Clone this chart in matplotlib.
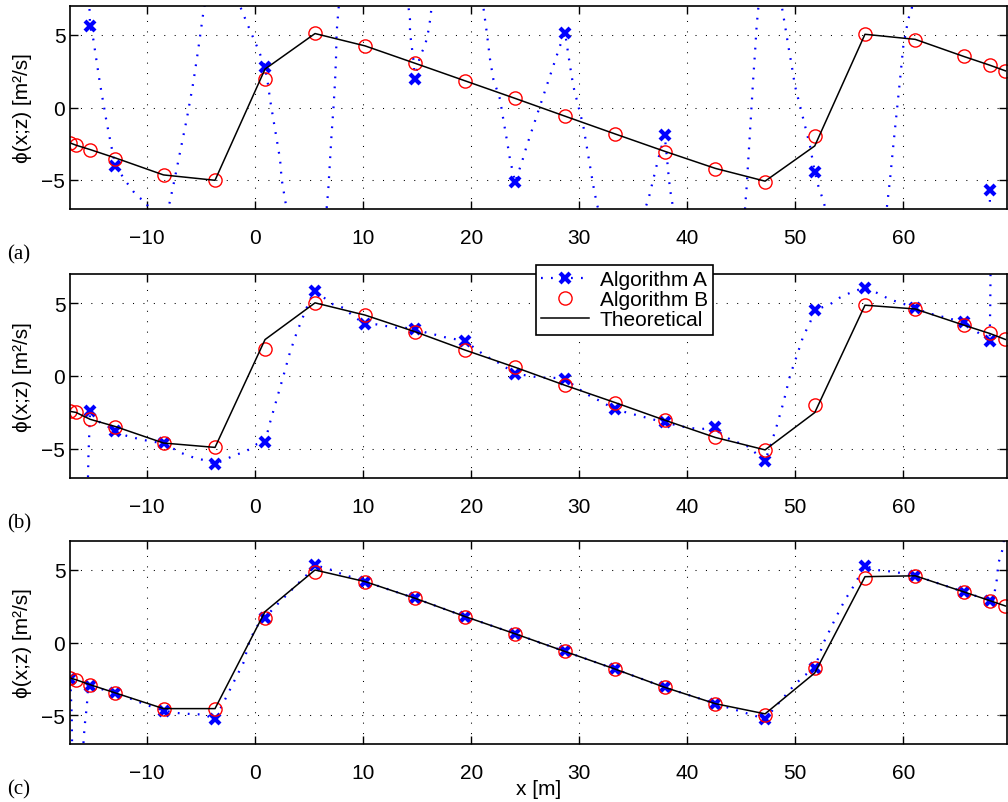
import numpy as np
import matplotlib
matplotlib.use('Agg')
import matplotlib.pyplot as plt
from matplotlib.lines import Line2D

plt.rcParams['font.family'] = ['Liberation Sans', 'DejaVu Sans']
plt.rcParams['font.size'] = 15

# sample positions x [m]
x = [-17.13, -16.6, -15.3, -12.95, -8.5, -3.73, 0.9, 5.53, 10.16, 14.79, 19.42, 24.05,
     28.68, 33.3, 37.9, 42.6, 47.2, 51.8, 56.45, 61.1, 65.6, 68.0, 69.45]

# --- panel (a)
theo_a = [-2.45, -2.6, -2.9, -3.48, -4.65, -5.02, 2.65, 5.1, 4.25, 3.05, 1.84, 0.63,
          -0.6, -1.82, -3.02, -4.2, -5.08, -2.65, 5.05, 4.7, 3.52, 2.92, 2.53]
algB_a = [-2.45, -2.6, -2.93, -3.52, -4.65, -5.02, 1.95, 5.11, 4.25, 3.06, 1.84, 0.64,
          -0.62, -1.82, -3.04, -4.21, -5.14, -1.96, 5.06, 4.67, 3.52, 2.92, 2.53]
algA_a = [9, 12, 5.6, -4.03, -10, 10, 2.76, -12, 14, 1.95, 14, -5.15,
          5.15, -12, -1.91, -15, 12, -4.45, -14, 9, -12, -5.69, -10]
# dotted reconstruction of algorithm A
curveA_a = [(-15.45, 9.0), (-15.3, 5.6), (-15.0, 4.7), (-14.4, 1.73), (-13.76, -1.04),
            (-13.15, -3.34), (-12.95, -4.03), (-11.9, -5.18), (-10.98, -6.1), (-10.06, -6.56),
            (-9.9, -7.0), (-8.5, -10.0), (-8.06, -7.0), (-7.6, -5.41), (-6.97, -3.11),
            (-6.35, -0.81), (-5.74, 1.73), (-5.28, 4.03), (-4.81, 6.56), (-4.7, 7.0),
            (-3.73, 10.0), (-1.42, 7.0), (-0.8, 5.87), (-0.33, 5.06), (0.13, 4.25),
            (0.44, 3.68), (0.9, 2.76), (1.2, 1.49), (1.36, 0.57), (1.67, -0.81), (1.98, -2.19),
            (2.29, -3.57), (2.44, -4.95), (2.75, -6.33), (2.9, -7.0), (5.53, -12.0),
            (6.6, -7.0), (6.76, -5.64), (6.92, -3.57), (7.07, -1.73), (7.23, -0.12),
            (7.38, 1.73), (7.47, 3.34), (7.53, 5.18), (7.69, 6.67), (7.8, 7.5), (10.16, 14.0),
            (14.17, 7.0), (14.32, 6.1), (14.32, 5.18), (14.48, 4.25), (14.63, 3.34),
            (14.79, 1.95), (15.25, 3.56), (15.71, 4.25), (16.0, 5.18), (16.2, 6.1),
            (16.33, 7.0), (19.42, 14.0), (21.1, 7.0), (21.43, 5.18), (21.73, 3.34),
            (22.04, 1.95), (22.66, 0.57), (22.96, -0.81), (23.28, -2.19), (23.58, -3.57),
            (24.05, -5.15), (24.67, -3.8), (25.13, -2.65), (25.74, -1.27), (26.36, 0.11),
            (26.98, 1.49), (27.59, 2.87), (28.21, 4.25), (28.68, 5.15), (29.14, 2.87),
            (29.44, 1.49), (29.9, 0.11), (30.37, -1.27), (30.68, -2.65), (30.99, -4.03),
            (31.3, -5.41), (31.6, -6.56), (31.75, -7.0), (33.3, -12.0), (36.08, -7.0),
            (36.4, -6.33), (36.7, -5.41), (37.0, -4.49), (37.3, -3.57), (37.9, -1.91),
            (38.1, -3.34), (38.24, -4.49), (38.4, -5.64), (38.55, -6.33), (38.7, -7.0),
            (42.6, -15.0), (45.34, -7.0), (45.5, -5.41), (45.65, -3.57), (45.8, -1.73),
            (45.96, 0.11), (46.1, 1.95), (46.27, 3.8), (46.42, 5.64), (46.57, 6.8),
            (47.2, 12.0), (48.74, 7.0), (49.05, 5.64), (49.35, 4.25), (49.67, 2.87),
            (49.97, 1.49), (50.44, 0.11), (50.9, -1.27), (51.36, -2.65), (51.8, -4.45),
            (52.13, -5.41), (52.6, -6.45), (52.8, -7.0), (56.45, -14.0), (58.46, -7.0),
            (58.77, -4.95), (59.07, -2.65), (59.39, -0.35), (59.7, 1.95), (60.0, 4.25),
            (60.46, 6.1), (60.78, 6.79), (61.1, 9.0), (np.nan, np.nan),
            (68.0, -5.69), (68.05, -8.0)]

# --- panel (b)
theo_b = [-2.43, -2.5, -2.97, -3.47, -4.6, -4.9, 2.5, 5.02, 4.18, 3.04, 1.78, 0.6,
          -0.64, -1.82, -3.03, -4.22, -5.07, -2.51, 4.86, 4.6, 3.49, 2.92, 2.51]
algB_b = [-2.43, -2.5, -2.97, -3.47, -4.6, -4.9, 1.88, 5.02, 4.18, 3.04, 1.78, 0.6,
          -0.64, -1.82, -3.03, -4.22, -5.07, -1.98, 4.86, 4.61, 3.49, 2.92, 2.51]
algA_b = [-12, -20, -2.4, -3.77, -4.6, -6.05, -4.52, 5.82, 3.54, 3.2, 2.4, 0.16,
          -0.18, -2.28, -3.19, -3.53, -5.82, 4.52, 6.05, 4.68, 3.7, 2.4, 20]
curveA_b = [(-15.55, -9.0), (-15.45, -5.5), (-15.3, -2.4), (-14.37, -3.19), (-13.76, -3.42),
            (-12.95, -3.77), (-11.9, -4.11), (-10.68, -4.34), (-9.44, -4.52), (-8.5, -4.6),
            (-6.97, -5.25), (-5.74, -5.59), (-4.5, -5.82), (-3.73, -6.05), (-2.04, -5.48),
            (-0.8, -5.14), (0.13, -4.68), (0.9, -4.52), (1.36, -3.2), (1.98, -1.6), (2.6, 0.0),
            (3.2, 1.6), (3.83, 2.97), (4.44, 4.1), (5.06, 5.25), (5.53, 5.82), (7.22, 4.91),
            (8.15, 4.68), (8.93, 4.2), (10.16, 3.54), (11.24, 3.54), (12.17, 3.42),
            (13.1, 3.31), (13.86, 3.31), (14.79, 3.2), (15.87, 2.97), (16.8, 2.81),
            (17.72, 2.63), (18.65, 2.51), (19.42, 2.4), (21.1, 1.49), (21.9, 1.14),
            (22.66, 0.85), (24.05, 0.16), (25.44, 0.0), (26.36, -0.11), (27.3, -0.11),
            (28.68, -0.18), (29.76, -0.8), (30.99, -1.37), (31.9, -1.71), (33.3, -2.28),
            (34.4, -2.51), (35.6, -2.74), (37.9, -3.19), (39.94, -3.53), (41.17, -3.65),
            (42.6, -3.53), (43.33, -4.11), (44.26, -4.45), (45.5, -4.79), (47.2, -5.82),
            (47.8, -4.56), (48.28, -3.42), (48.9, -1.82), (49.5, 0.0), (50.13, 1.37),
            (50.74, 2.74), (51.36, 3.66), (51.8, 4.52), (53.2, 4.91), (54.1, 5.37),
            (55.4, 5.82), (56.45, 6.05), (57.54, 5.71), (58.77, 5.25), (59.7, 5.03),
            (61.1, 4.68), (62.17, 4.34), (63.4, 4.11), (64.3, 3.93), (65.6, 3.7),
            (66.5, 3.2), (68.0, 2.4), (68.05, 5.0), (68.1, 9.0)]

# --- panel (c)
theo_c = [-2.45, -2.57, -2.91, -3.48, -4.56, -4.56, 2.13, 5.0, 4.2, 3.05, 1.79, 0.6,
          -0.62, -1.83, -3.09, -4.22, -4.92, -2.1, 4.54, 4.6, 3.49, 2.89, 2.52]
algB_c = [-2.45, -2.57, -2.91, -3.48, -4.56, -4.56, 1.72, 4.89, 4.2, 3.05, 1.79, 0.6,
          -0.62, -1.83, -3.09, -4.22, -4.97, -1.76, 4.47, 4.61, 3.49, 2.89, 2.52]
algA_c = [-2.55, -20, -2.98, -3.5, -4.7, -5.27, 1.72, 5.34, 4.2, 3.05, 1.79, 0.6,
          -0.62, -1.83, -3.09, -4.22, -5.27, -1.76, 5.3, 4.61, 3.49, 2.89, 20]
curveA_c = [(-17.13, -2.55), (-17.0, -5.0), (-16.95, -8.0), (-16.6, -20.0), (-15.95, -8.0),
            (-15.9, -6.7), (-15.77, -5.54), (-15.6, -4.4), (-15.52, -3.48), (-15.3, -2.98),
            (-12.95, -3.5), (-11.3, -3.94), (-10.06, -4.31), (-8.5, -4.7), (-7.28, -4.86),
            (-6.05, -4.93), (-4.81, -4.97), (-3.73, -5.27), (-2.96, -4.17), (-2.04, -2.79),
            (-1.11, -1.42), (-0.49, 0.19), (0.13, 1.1), (0.9, 1.72), (1.98, 2.59),
            (2.9, 3.28), (3.83, 3.97), (4.76, 4.66), (5.53, 5.34), (7.07, 5.0), (7.84, 4.77),
            (8.77, 4.54), (10.16, 4.2), (14.79, 3.05), (19.42, 1.79), (24.05, 0.6),
            (28.68, -0.62), (33.3, -1.83), (37.9, -3.09), (42.6, -4.22), (47.2, -5.27),
            (49.8, -3.03), (50.74, -2.34), (51.8, -1.76), (52.6, -0.04), (53.2, 0.87),
            (53.8, 1.79), (54.6, 2.94), (55.37, 3.85), (56.45, 5.3), (57.54, 5.0),
            (59.1, 4.88), (61.1, 4.61), (65.6, 3.49), (68.0, 2.89), (68.3, 2.82),
            (68.65, 4.31), (68.8, 5.46), (69.26, 6.6), (69.5, 9.0)]

dots = (0, (0.8, 3.7))

def draw(ax, theo, algB, algA, curve):
    cx, cy = np.array(curve).T
    ax.plot(cx, cy, color='b', lw=1.6, ls=dots, dash_capstyle='butt')
    ax.plot(x, algA, 'x', color='b', ms=7.5, mew=3)
    ax.plot(x, algB, 'o', mfc='none', mec='r', ms=9.5, mew=1)
    ax.plot(x, theo, '-', color='k', lw=1.1)
    ax.set_xlim(-17.13, 69.6)
    ax.set_ylim(-7, 7)
    ax.set_xticks(range(-10, 61, 10))
    ax.set_yticks([-5, 0, 5])
    ax.grid(True, color='k', ls=(0, (1, 9)), lw=0.75)
    ax.tick_params(direction='in', top=True, right=True, length=6, width=1, labelsize=15)
    ax.tick_params(axis='x', pad=13.5)
    ax.tick_params(axis='y', pad=3.6)
    for s in ax.spines.values():
        s.set_linewidth(1.2)
    ax.set_ylabel('ϕ(x;z) [m²/s]')
    ax.yaxis.set_label_coords(-0.0406, 0.5)

fig = plt.figure(figsize=(10.08, 8.03), dpi=100)
W, H = 1008.0, 803.0
left = 70.3 / W
width = (1007 - 70.3) / W
ax1 = fig.add_axes([left, 1 - 210 / H, width, 203 / H])
ax2 = fig.add_axes([left, 1 - 479 / H, width, 204 / H])
ax3 = fig.add_axes([left, 1 - 745 / H, width, 203 / H])

draw(ax1, theo_a, algB_a, algA_a, curveA_a)
draw(ax2, theo_b, algB_b, algA_b, curveA_b)
draw(ax3, theo_c, algB_c, algA_c, curveA_c)

ax3.set_xlabel('x [m]')
ax3.xaxis.set_label_coords(0.5, -0.17)

# panel tags
for tag, yp in [('(a)', 255), ('(b)', 524), ('(c)', 790)]:
    fig.text(7 / W, 1 - yp / H, tag, family='Liberation Serif', fontsize=15, va='center')

handles = [Line2D([], [], color='b', lw=1.6, ls=dots, dash_capstyle='butt',
                  marker='x', ms=7.5, mew=3),
           Line2D([], [], ls='none', marker='o', mfc='none', mec='r', ms=9.5, mew=1),
           Line2D([], [], color='k', lw=1.1)]
leg = ax2.legend(handles, ['Algorithm A', 'Algorithm B', 'Theoretical'],
                 loc='upper left', bbox_to_anchor=(536 / W, 1 - 266 / H),
                 bbox_transform=fig.transFigure, fontsize=15, fancybox=False,
                 framealpha=1, edgecolor='k', borderpad=0.25, labelspacing=0.05,
                 handlelength=2.3, handletextpad=0.5, borderaxespad=0)
leg.get_frame().set_linewidth(1.2)
leg.set_zorder(10)

fig.savefig('out.png', dpi=100)
